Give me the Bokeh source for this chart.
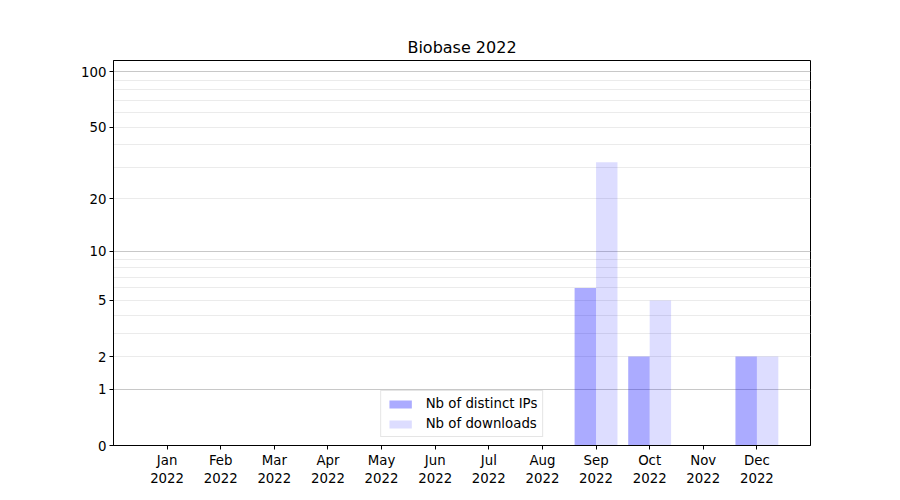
import math

from bokeh.embed import file_html
from bokeh.models import FixedTicker, Grid, Range1d, Title
from bokeh.plotting import figure
from bokeh.resources import INLINE

# Monthly figures for Biobase, 2022
months = ["Jan", "Feb", "Mar", "Apr", "May", "Jun",
          "Jul", "Aug", "Sep", "Oct", "Nov", "Dec"]
year_label = "2022"
distinct_ips = [0, 0, 0, 0, 0, 0, 0, 0, 6, 2, 0, 2]
downloads = [0, 0, 0, 0, 0, 0, 0, 0, 32, 5, 0, 2]

y_tick_values = [0, 1, 2, 5, 10, 20, 50, 100]
y_major_grid = [1, 10, 100]
y_minor_grid = [2, 3, 4, 5, 6, 7, 8, 9, 20, 30, 40, 50, 60, 70, 80, 90]
y_max_value = 115


def tr(v):
    """log(1 + v) scale used on the vertical axis."""
    return math.log10(1 + v)


FONT = "DejaVu Sans"

p = figure(width=900, height=500, output_backend="svg", toolbar_location=None,
           x_range=Range1d(-1, 12), y_range=Range1d(0, tr(y_max_value)),
           min_border_left=113, min_border_right=90, min_border_top=60,
           min_border_bottom=55)
p.title = None
p.add_layout(Title(text="Biobase 2022", align="center", text_font=FONT,
                   text_font_size="16px", text_font_style="normal",
                   text_color="black", standoff=7), "above")

idx = list(range(len(months)))
bar_w = 0.4
p.vbar(x=[i - bar_w / 2 for i in idx], top=[tr(v) for v in distinct_ips], bottom=0,
       width=bar_w, fill_color="blue", fill_alpha=0.33, line_color=None,
       legend_label="Nb of distinct IPs")
p.vbar(x=[i + bar_w / 2 for i in idx], top=[tr(v) for v in downloads], bottom=0,
       width=bar_w, fill_color="blue", fill_alpha=0.135, line_color=None,
       legend_label="Nb of downloads")

# Axes
p.xaxis.ticker = FixedTicker(ticks=idx)
p.xaxis.major_label_overrides = {i: f"{m}\n{year_label}" for i, m in enumerate(months)}
p.yaxis.ticker = FixedTicker(ticks=[tr(v) for v in y_tick_values])
p.yaxis.major_label_overrides = {tr(v): str(v) for v in y_tick_values}
for ax in (p.xaxis[0], p.yaxis[0]):
    ax.major_label_text_font = FONT
    ax.major_label_text_font_size = "13.33px"
    ax.major_label_text_color = "black"
    ax.axis_line_color = "black"
    ax.major_tick_line_color = "black"
    ax.major_tick_in = 0
    ax.major_tick_out = 4
    ax.minor_tick_line_color = None
    ax.major_label_standoff = 3

# Grid: only horizontal lines, stronger at decades
p.xgrid.grid_line_color = None
p.ygrid.grid_line_color = None
p.add_layout(Grid(dimension=1,
                  ticker=FixedTicker(ticks=[tr(v) for v in y_major_grid],
                                     minor_ticks=[tr(v) for v in y_minor_grid]),
                  grid_line_color="#c8c8c8", grid_line_width=1,
                  minor_grid_line_color="#ebebeb", minor_grid_line_width=1))

p.outline_line_color = "black"
p.outline_line_width = 1
p.background_fill_color = "white"
p.border_fill_color = "white"

# Legend
lg = p.legend[0]
lg.location = "bottom_center"
lg.margin = 8
lg.label_text_font = FONT
lg.label_text_font_size = "13.33px"
lg.label_text_color = "black"
lg.glyph_width = 28
lg.glyph_height = 10
lg.label_standoff = 12
lg.spacing = 5
lg.padding = 5
lg.border_line_color = "#cccccc"
lg.background_fill_alpha = 0.8

open("out.html", "w").write(file_html(p, INLINE))
